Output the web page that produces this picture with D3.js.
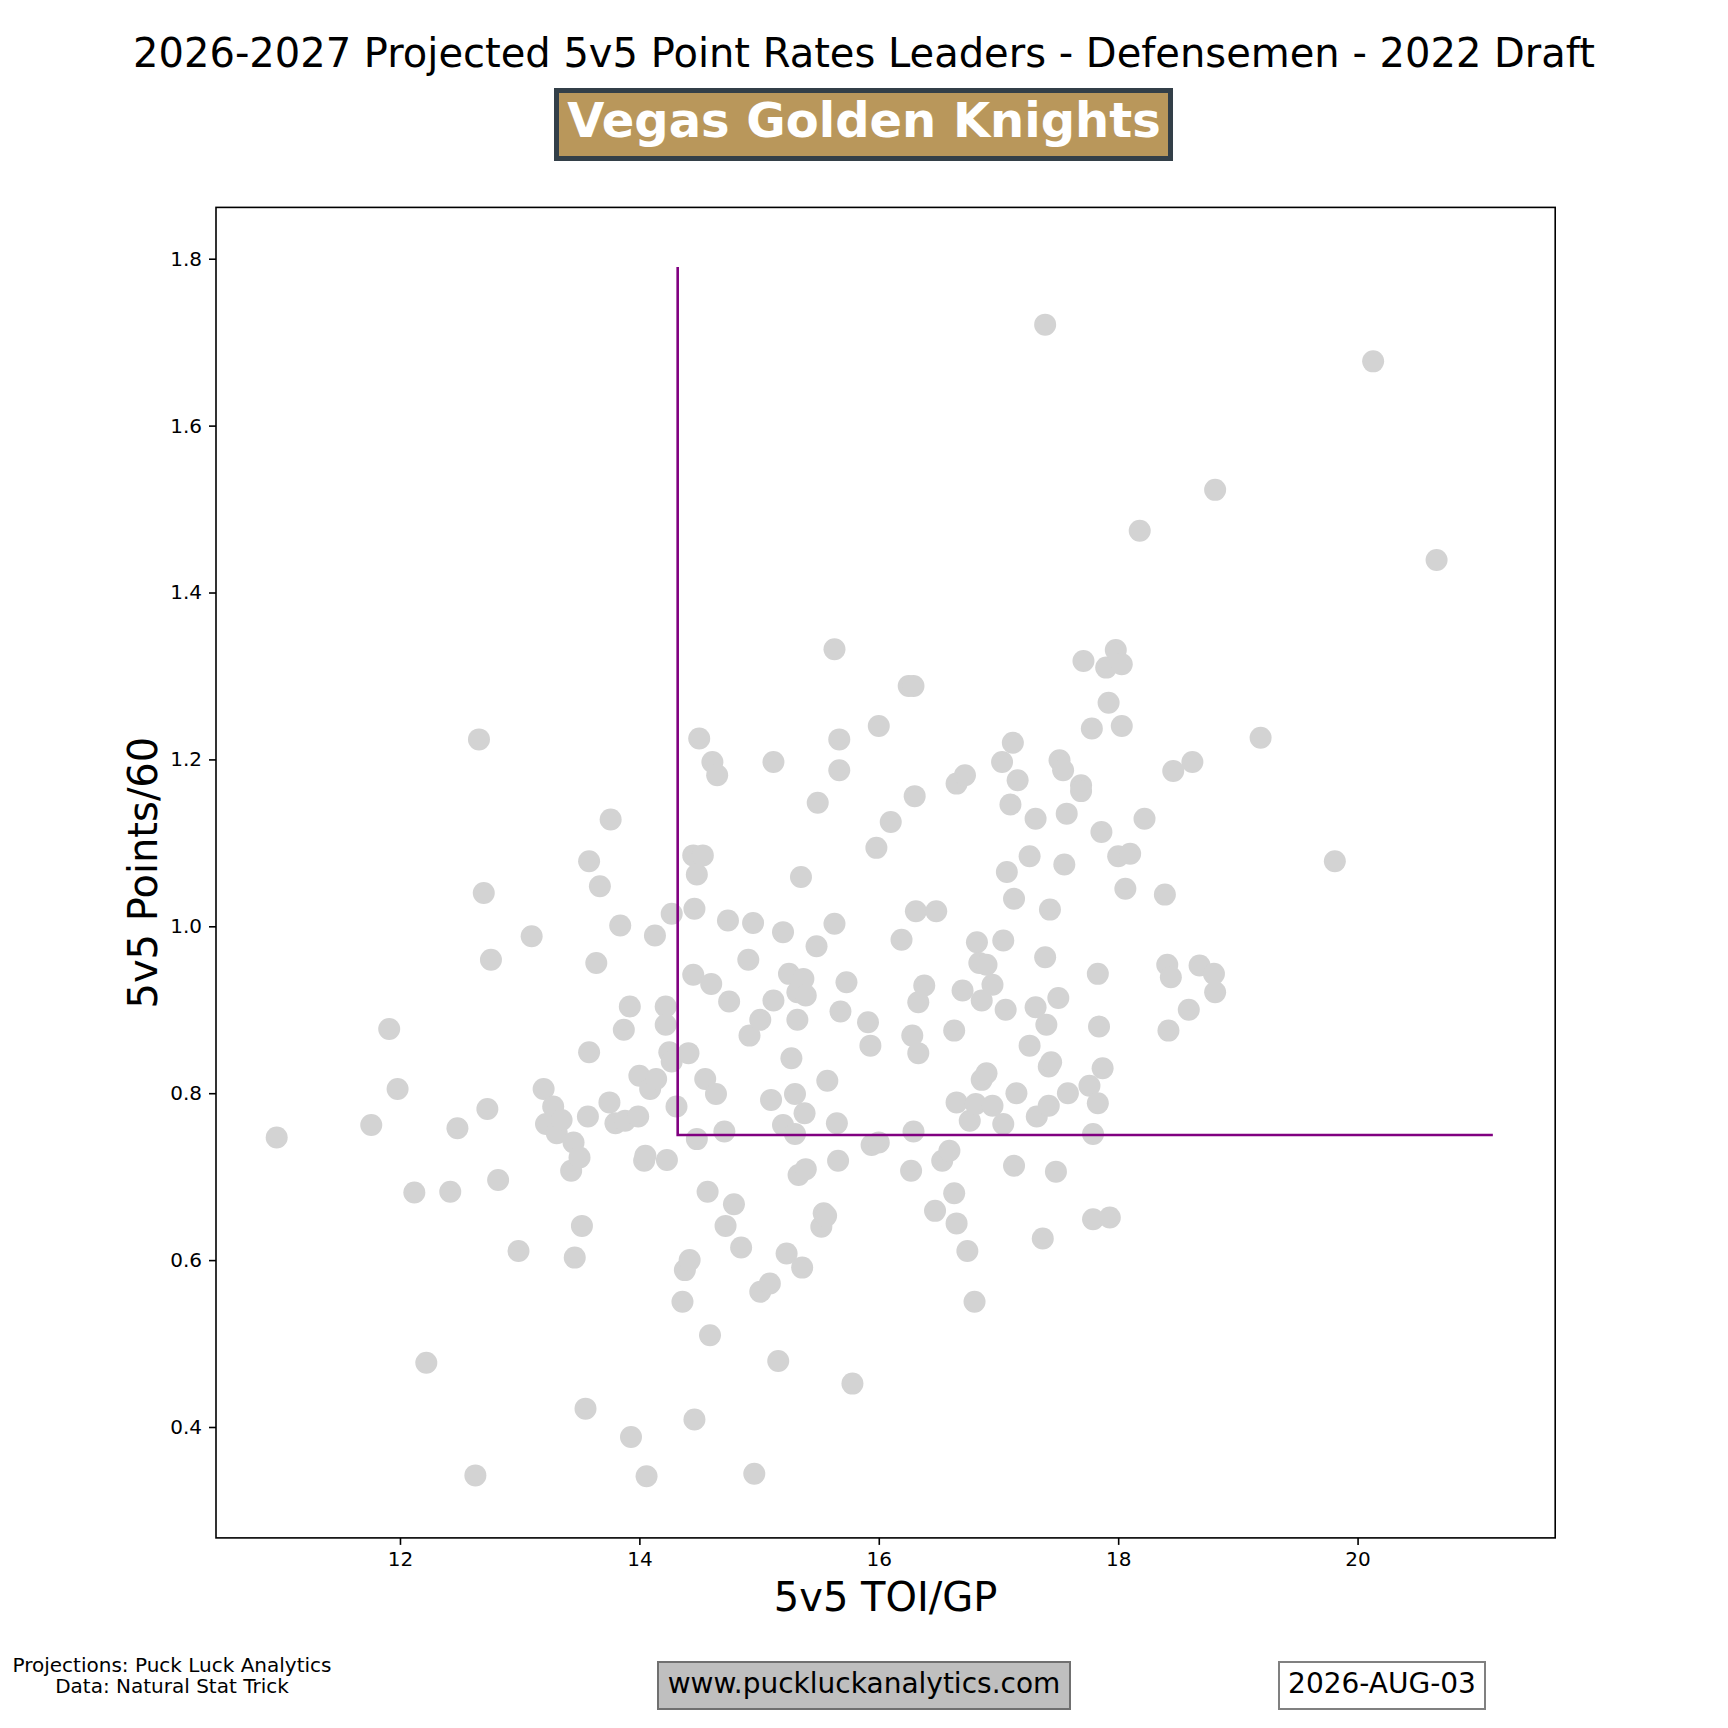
<!DOCTYPE html>
<html>
<head>
<meta charset="utf-8">
<script src="https://cdn.jsdelivr.net/npm/d3@7"></script>
<style>
  body { margin: 0; background: #fff; }
  text { font-family: "DejaVu Sans", sans-serif; }
</style>
</head>
<body>
<div id="chart"></div>
<script>
// 5v5 TOI per game, one entry per defenseman
const toi = [
  10.97,11.76,11.91,11.98,12.12,12.22,12.48,12.42,12.63,12.66,
  12.70,12.73,12.76,12.82,12.99,13.10,13.20,13.22,13.28,13.31,
  13.35,13.43,13.45,13.46,13.50,13.52,13.55,13.57,13.58,13.58,
  13.64,13.67,13.75,13.76,13.80,13.84,13.87,13.88,13.92,13.93,
  13.99,14.00,14.04,14.05,14.06,14.09,14.13,14.14,14.22,14.22,
  14.23,14.25,14.27,14.27,14.31,14.36,14.38,14.41,14.42,14.45,
  14.45,14.46,14.46,14.48,14.48,14.50,14.53,14.55,14.57,14.59,
  14.60,14.61,14.64,14.65,14.71,14.72,14.74,14.75,14.79,14.85,
  14.91,14.92,14.95,14.96,15.01,15.01,15.09,15.10,15.12,15.12,
  15.16,15.20,15.20,15.23,15.25,15.27,15.30,15.30,15.32,15.32,
  15.33,15.35,15.37,15.36,15.38,15.39,15.39,15.48,15.49,15.52,
  15.54,15.56,15.57,15.63,15.63,15.65,15.66,15.67,15.68,15.67,
  15.73,15.78,15.91,15.93,15.94,15.98,16.00,16.00,16.10,16.19,
  16.25,16.29,16.27,16.28,16.29,16.30,16.31,16.33,16.33,16.38,
  16.47,16.48,16.53,16.59,16.63,16.63,16.65,16.65,16.65,16.70,
  16.72,16.74,16.76,16.80,16.81,16.82,16.84,16.86,16.86,16.90,
  16.90,16.95,16.95,17.03,17.04,17.04,17.06,17.07,17.10,17.12,
  17.13,17.13,17.15,17.16,17.26,17.26,17.31,17.31,17.32,17.37,
  17.39,17.39,17.40,17.42,17.42,17.43,17.44,17.48,17.50,17.51,
  17.54,17.55,17.57,17.58,17.69,17.69,17.71,17.76,17.78,17.79,
  17.79,17.83,17.83,17.84,17.86,17.87,17.90,17.92,17.93,17.98,
  18.00,18.03,18.03,18.06,18.10,18.18,18.22,18.39,18.41,18.42,
  18.44,18.46,18.59,18.62,18.68,18.80,18.81,18.81,19.19,19.81,
  20.13,20.66
];
// projected 5v5 points per 60, same order
const pts60 = [
  0.747,0.762,0.877,0.805,0.681,0.477,0.758,0.682,0.342,1.224,
  1.040,0.781,0.960,0.696,0.611,0.988,0.805,0.763,0.784,0.752,
  0.768,0.707,0.741,0.603,0.723,0.641,0.422,0.772,1.078,0.849,
  0.956,1.048,0.789,1.128,0.764,1.001,0.876,0.767,0.904,0.388,
  0.772,0.821,0.719,0.725,0.341,0.805,0.989,0.817,0.904,0.882,
  0.720,0.849,0.838,1.015,0.784,0.550,0.588,0.848,0.600,0.942,
  1.085,1.021,0.409,1.062,0.745,1.225,1.085,0.817,0.682,0.510,
  0.931,1.197,0.799,1.181,0.754,0.641,1.007,0.910,0.667,0.615,
  0.960,0.869,1.004,0.344,0.562,0.888,0.572,0.792,0.911,1.197,
  0.479,0.993,0.762,0.608,0.943,0.842,0.799,0.751,0.921,0.888,
  0.702,1.059,0.937,0.591,0.776,0.917,0.709,0.976,1.148,0.640,
  0.656,0.653,0.815,1.003,1.332,0.764,0.719,1.224,0.898,1.187,
  0.933,0.452,0.885,0.857,0.738,1.094,1.240,0.741,1.125,0.984,
  1.288,1.288,0.707,0.869,0.754,1.156,1.018,0.909,0.848,0.929,
  0.659,1.018,0.719,0.731,0.875,0.680,0.789,0.644,1.171,0.923,
  1.181,0.611,0.767,0.550,0.787,0.981,0.956,0.816,0.911,0.824,
  0.954,0.930,0.785,1.197,0.983,0.763,0.900,1.065,1.146,1.220,
  1.033,0.713,0.800,1.175,1.084,0.857,1.129,0.903,0.772,0.626,
  0.963,1.721,0.882,0.785,0.832,1.020,0.837,0.706,0.914,1.199,
  1.187,1.074,1.135,0.800,1.169,1.162,1.318,0.809,1.237,0.751,
  0.649,0.943,0.788,0.880,1.113,0.830,1.310,1.268,0.651,1.331,
  1.084,1.240,1.314,1.045,1.087,1.474,1.129,1.038,0.954,0.875,
  0.939,1.186,0.900,1.197,0.953,0.943,0.921,1.523,1.226,1.078,
  1.677,1.439
];
const xTicks = [12, 14, 16, 18, 20];
const yTicks = [0.4, 0.6, 0.8, 1.0, 1.2, 1.4, 1.6, 1.8];
// threshold lines (team player cutoffs)
const refX = 14.32, refY = 0.75, refTop = 1.79, refRight = 21.13;

const W = 1728, H = 1728;
const margin = ({top: 207.4, right: 172.8, bottom: 190.1, left: 216});

const svg = d3.select("#chart")
  .append("svg")
  .attr("width", W)
  .attr("height", H)
  .style("background", "#fff");

const x = d3.scaleLinear()
  .domain([10.463, 21.651])
  .range([margin.left, W - margin.right]);
const y = d3.scaleLinear()
  .domain([0.2671, 1.8615])
  .range([H - margin.bottom, margin.top]);

// title + team badge
svg.append("text")
  .attr("x", W / 2).attr("y", 67)
  .attr("text-anchor", "middle")
  .style("font-size", "40px")
  .text("2026-2027 Projected 5v5 Point Rates Leaders - Defensemen - 2022 Draft");

svg.append("rect")
  .attr("x", 556.5).attr("y", 90.5)
  .attr("width", 614).attr("height", 68)
  .attr("fill", "#B9975B")
  .attr("stroke", "#333F48")
  .attr("stroke-width", 5);
svg.append("text")
  .attr("x", W / 2).attr("y", 137)
  .attr("text-anchor", "middle")
  .attr("fill", "#fff")
  .style("font-size", "48px")
  .style("font-weight", "bold")
  .text("Vegas Golden Knights");

// points
const data = toi.map((t, i) => [t, pts60[i]]);
svg.append("g")
  .selectAll("circle")
  .data(data)
  .join("circle")
  .attr("cx", d => x(d[0]))
  .attr("cy", d => y(d[1]))
  .attr("r", 11)
  .attr("fill", "#d3d3d3");

// cutoff lines
svg.append("path")
  .attr("d", d3.line()([[x(refX), y(refTop)], [x(refX), y(refY)], [x(refRight), y(refY)]]))
  .attr("fill", "none")
  .attr("stroke", "purple")
  .attr("stroke-width", 2.6);

// axes
const xAxis = d3.axisBottom(x).tickValues(xTicks).tickFormat(d3.format("d"))
  .tickSize(7).tickPadding(7);
const yAxis = d3.axisLeft(y).tickValues(yTicks).tickFormat(d3.format(".1f"))
  .tickSize(7).tickPadding(7);

svg.append("g")
  .attr("transform", `translate(0, ${H - margin.bottom})`)
  .call(xAxis)
  .call(g => g.select(".domain").remove())
  .call(g => g.selectAll("line").attr("stroke-width", 1.6))
  .selectAll("text")
  .style("font-size", "20px")
  .style("font-family", "DejaVu Sans")
  .attr("fill", "#000");

svg.append("g")
  .attr("transform", `translate(${margin.left}, 0)`)
  .call(yAxis)
  .call(g => g.select(".domain").remove())
  .call(g => g.selectAll("line").attr("stroke-width", 1.6))
  .selectAll("text")
  .style("font-size", "20px")
  .style("font-family", "DejaVu Sans")
  .attr("fill", "#000");

svg.append("rect")
  .attr("x", margin.left).attr("y", margin.top)
  .attr("width", W - margin.left - margin.right)
  .attr("height", H - margin.top - margin.bottom)
  .attr("fill", "none")
  .attr("stroke", "#000")
  .attr("stroke-width", 1.6);

svg.append("text")
  .attr("x", (margin.left + W - margin.right) / 2).attr("y", 1611)
  .attr("text-anchor", "middle")
  .style("font-size", "40px")
  .text("5v5 TOI/GP");

svg.append("text")
  .attr("transform", `translate(157, ${(margin.top + H - margin.bottom) / 2}) rotate(-90)`)
  .attr("text-anchor", "middle")
  .style("font-size", "40px")
  .text("5v5 Points/60");

// footer
svg.append("text")
  .attr("x", 172).attr("y", 1672)
  .attr("text-anchor", "middle")
  .style("font-size", "20px")
  .text("Projections: Puck Luck Analytics");
svg.append("text")
  .attr("x", 172).attr("y", 1693)
  .attr("text-anchor", "middle")
  .style("font-size", "20px")
  .text("Data: Natural Stat Trick");

svg.append("rect")
  .attr("x", 658).attr("y", 1662)
  .attr("width", 412).attr("height", 47)
  .attr("fill", "#bfbfbf")
  .attr("stroke", "#707070")
  .attr("stroke-width", 2);
svg.append("text")
  .attr("x", W / 2).attr("y", 1693)
  .attr("text-anchor", "middle")
  .style("font-size", "28px")
  .text("www.puckluckanalytics.com");

svg.append("rect")
  .attr("x", 1279).attr("y", 1662)
  .attr("width", 206).attr("height", 47)
  .attr("fill", "#fff")
  .attr("stroke", "#808080")
  .attr("stroke-width", 2);
svg.append("text")
  .attr("x", 1382).attr("y", 1693)
  .attr("text-anchor", "middle")
  .style("font-size", "28px")
  .text("2026-AUG-03");
</script>
</body>
</html>
